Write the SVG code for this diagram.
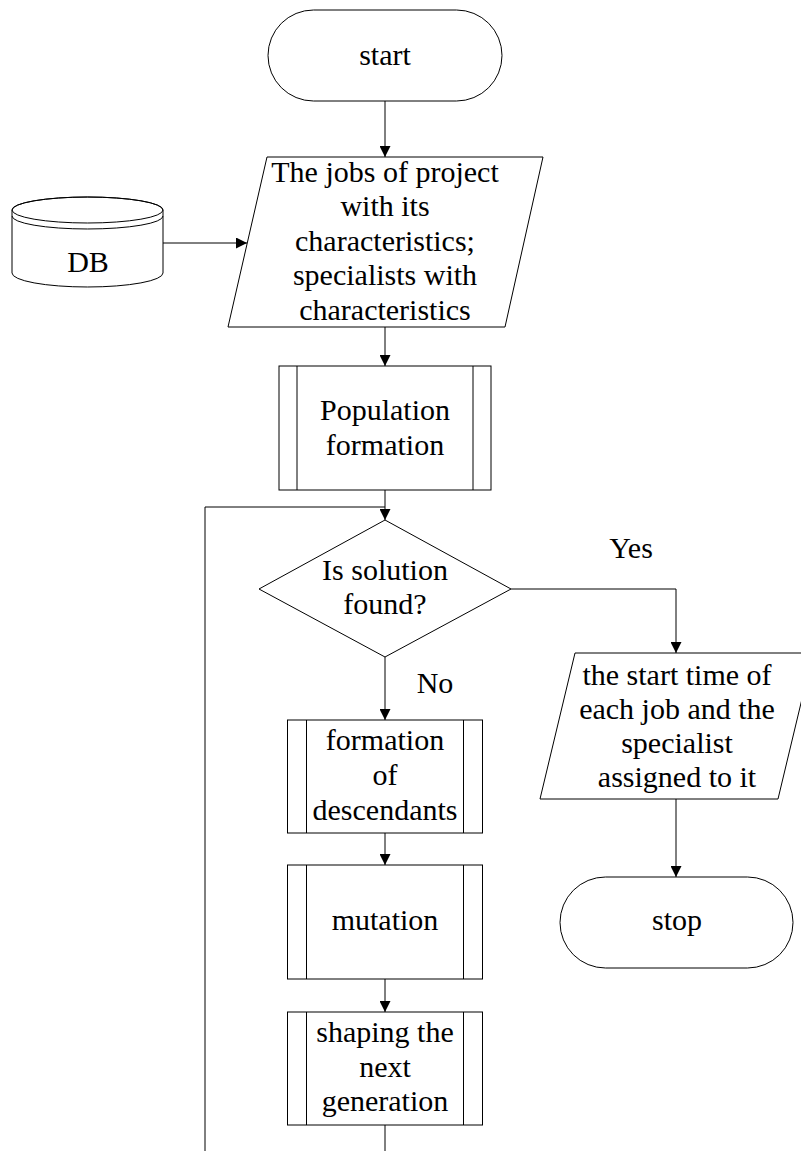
<svg xmlns="http://www.w3.org/2000/svg" width="801" height="1151" viewBox="0 0 801 1151">
  <defs>
    <marker id="arrow" markerUnits="userSpaceOnUse" markerWidth="11" markerHeight="11" refX="11" refY="5.5" orient="auto">
      <path d="M0,0 L11,5.5 L0,11 Z" fill="#000"/>
    </marker>
    <style>
      .shape { fill: #fff; stroke: #000; stroke-width: 1; }
      .line { fill: none; stroke: #000; stroke-width: 1; }
      .edge { fill: none; stroke: #000; stroke-width: 1; marker-end: url(#arrow); }
      text { font-family: "Liberation Serif", "Times New Roman", serif; font-size: 30px; fill: #000; text-anchor: middle; }
    </style>
  </defs>
  <rect width="801" height="1151" fill="#fff"/>

  <!-- connectors -->
  <g id="connectors">
    <line class="edge" x1="385" y1="101" x2="385" y2="157"/>
    <line class="edge" x1="163" y1="243" x2="247" y2="243"/>
    <line class="edge" x1="385" y1="327" x2="385" y2="366"/>
    <line class="edge" x1="385" y1="490" x2="385" y2="520"/>
    <polyline class="line" points="205,1151 205,507 385,507"/>
    <polyline class="edge" points="511,589 676,589 676,653"/>
    <line class="edge" x1="676" y1="799" x2="676" y2="877"/>
    <line class="edge" x1="385" y1="657" x2="385" y2="720"/>
    <line class="edge" x1="385" y1="833" x2="385" y2="865"/>
    <line class="edge" x1="385" y1="979" x2="385" y2="1012"/>
    <line class="line" x1="385" y1="1125" x2="385" y2="1151"/>
    <text x="631" y="558">Yes</text>
    <text x="435" y="693">No</text>
  </g>

  <!-- terminator: start -->
  <g id="start">
    <rect class="shape" x="268" y="10" width="234" height="91" rx="45.5" ry="45.5"/>
    <text x="385" y="65">start</text>
  </g>

  <!-- data store -->
  <g id="db">
    <path class="shape" d="M12,210 L12,273 A75.5,14 0 0 0 163,273 L163,210 A75.5,13 0 0 0 12,210 Z"/>
    <ellipse class="line" cx="87.5" cy="210" rx="75.5" ry="13"/>
    <path class="line" d="M12,216 A75.5,13 0 0 0 163,216"/>
    <text x="88" y="272">DB</text>
  </g>

  <!-- input data -->
  <g id="input">
    <polygon class="shape" points="267,157 543,157 505,327 228,327"/>
    <text x="385" y="181.5">The jobs of project</text>
    <text x="385" y="216">with its</text>
    <text x="385" y="250.5">characteristics;</text>
    <text x="385" y="285">specialists with</text>
    <text x="385" y="319.5">characteristics</text>
  </g>

  <!-- predefined process: population formation -->
  <g id="population">
    <rect class="shape" x="279" y="366" width="212" height="124"/>
    <line class="line" x1="297" y1="366" x2="297" y2="490"/>
    <line class="line" x1="473" y1="366" x2="473" y2="490"/>
    <text x="385" y="420">Population</text>
    <text x="385" y="455">formation</text>
  </g>

  <!-- decision -->
  <g id="decision">
    <polygon class="shape" points="385,520 511,589 385,657 259,589"/>
    <text x="385" y="580">Is solution</text>
    <text x="385" y="614">found?</text>
  </g>

  <!-- output data -->
  <g id="output">
    <polygon class="shape" points="575,653 813,653 778,799 540,799"/>
    <text x="677" y="685">the start time of</text>
    <text x="677" y="719">each job and the</text>
    <text x="677" y="753">specialist</text>
    <text x="677" y="787">assigned to it</text>
  </g>

  <!-- terminator: stop -->
  <g id="stop">
    <rect class="shape" x="560" y="877" width="233" height="91" rx="45.5" ry="45.5"/>
    <text x="677" y="930">stop</text>
  </g>

  <!-- predefined process: formation of descendants -->
  <g id="descendants">
    <rect class="shape" x="287.5" y="720" width="195" height="113"/>
    <line class="line" x1="306.5" y1="720" x2="306.5" y2="833"/>
    <line class="line" x1="463.5" y1="720" x2="463.5" y2="833"/>
    <text x="385" y="750">formation</text>
    <text x="385" y="785">of</text>
    <text x="385" y="820">descendants</text>
  </g>

  <!-- predefined process: mutation -->
  <g id="mutation">
    <rect class="shape" x="287.5" y="865" width="195" height="114"/>
    <line class="line" x1="306.5" y1="865" x2="306.5" y2="979"/>
    <line class="line" x1="463.5" y1="865" x2="463.5" y2="979"/>
    <text x="385" y="930">mutation</text>
  </g>

  <!-- predefined process: next generation -->
  <g id="next-generation">
    <rect class="shape" x="287.5" y="1012" width="195" height="113"/>
    <line class="line" x1="306.5" y1="1012" x2="306.5" y2="1125"/>
    <line class="line" x1="463.5" y1="1012" x2="463.5" y2="1125"/>
    <text x="385" y="1042">shaping the</text>
    <text x="385" y="1077">next</text>
    <text x="385" y="1111">generation</text>
  </g>
</svg>
